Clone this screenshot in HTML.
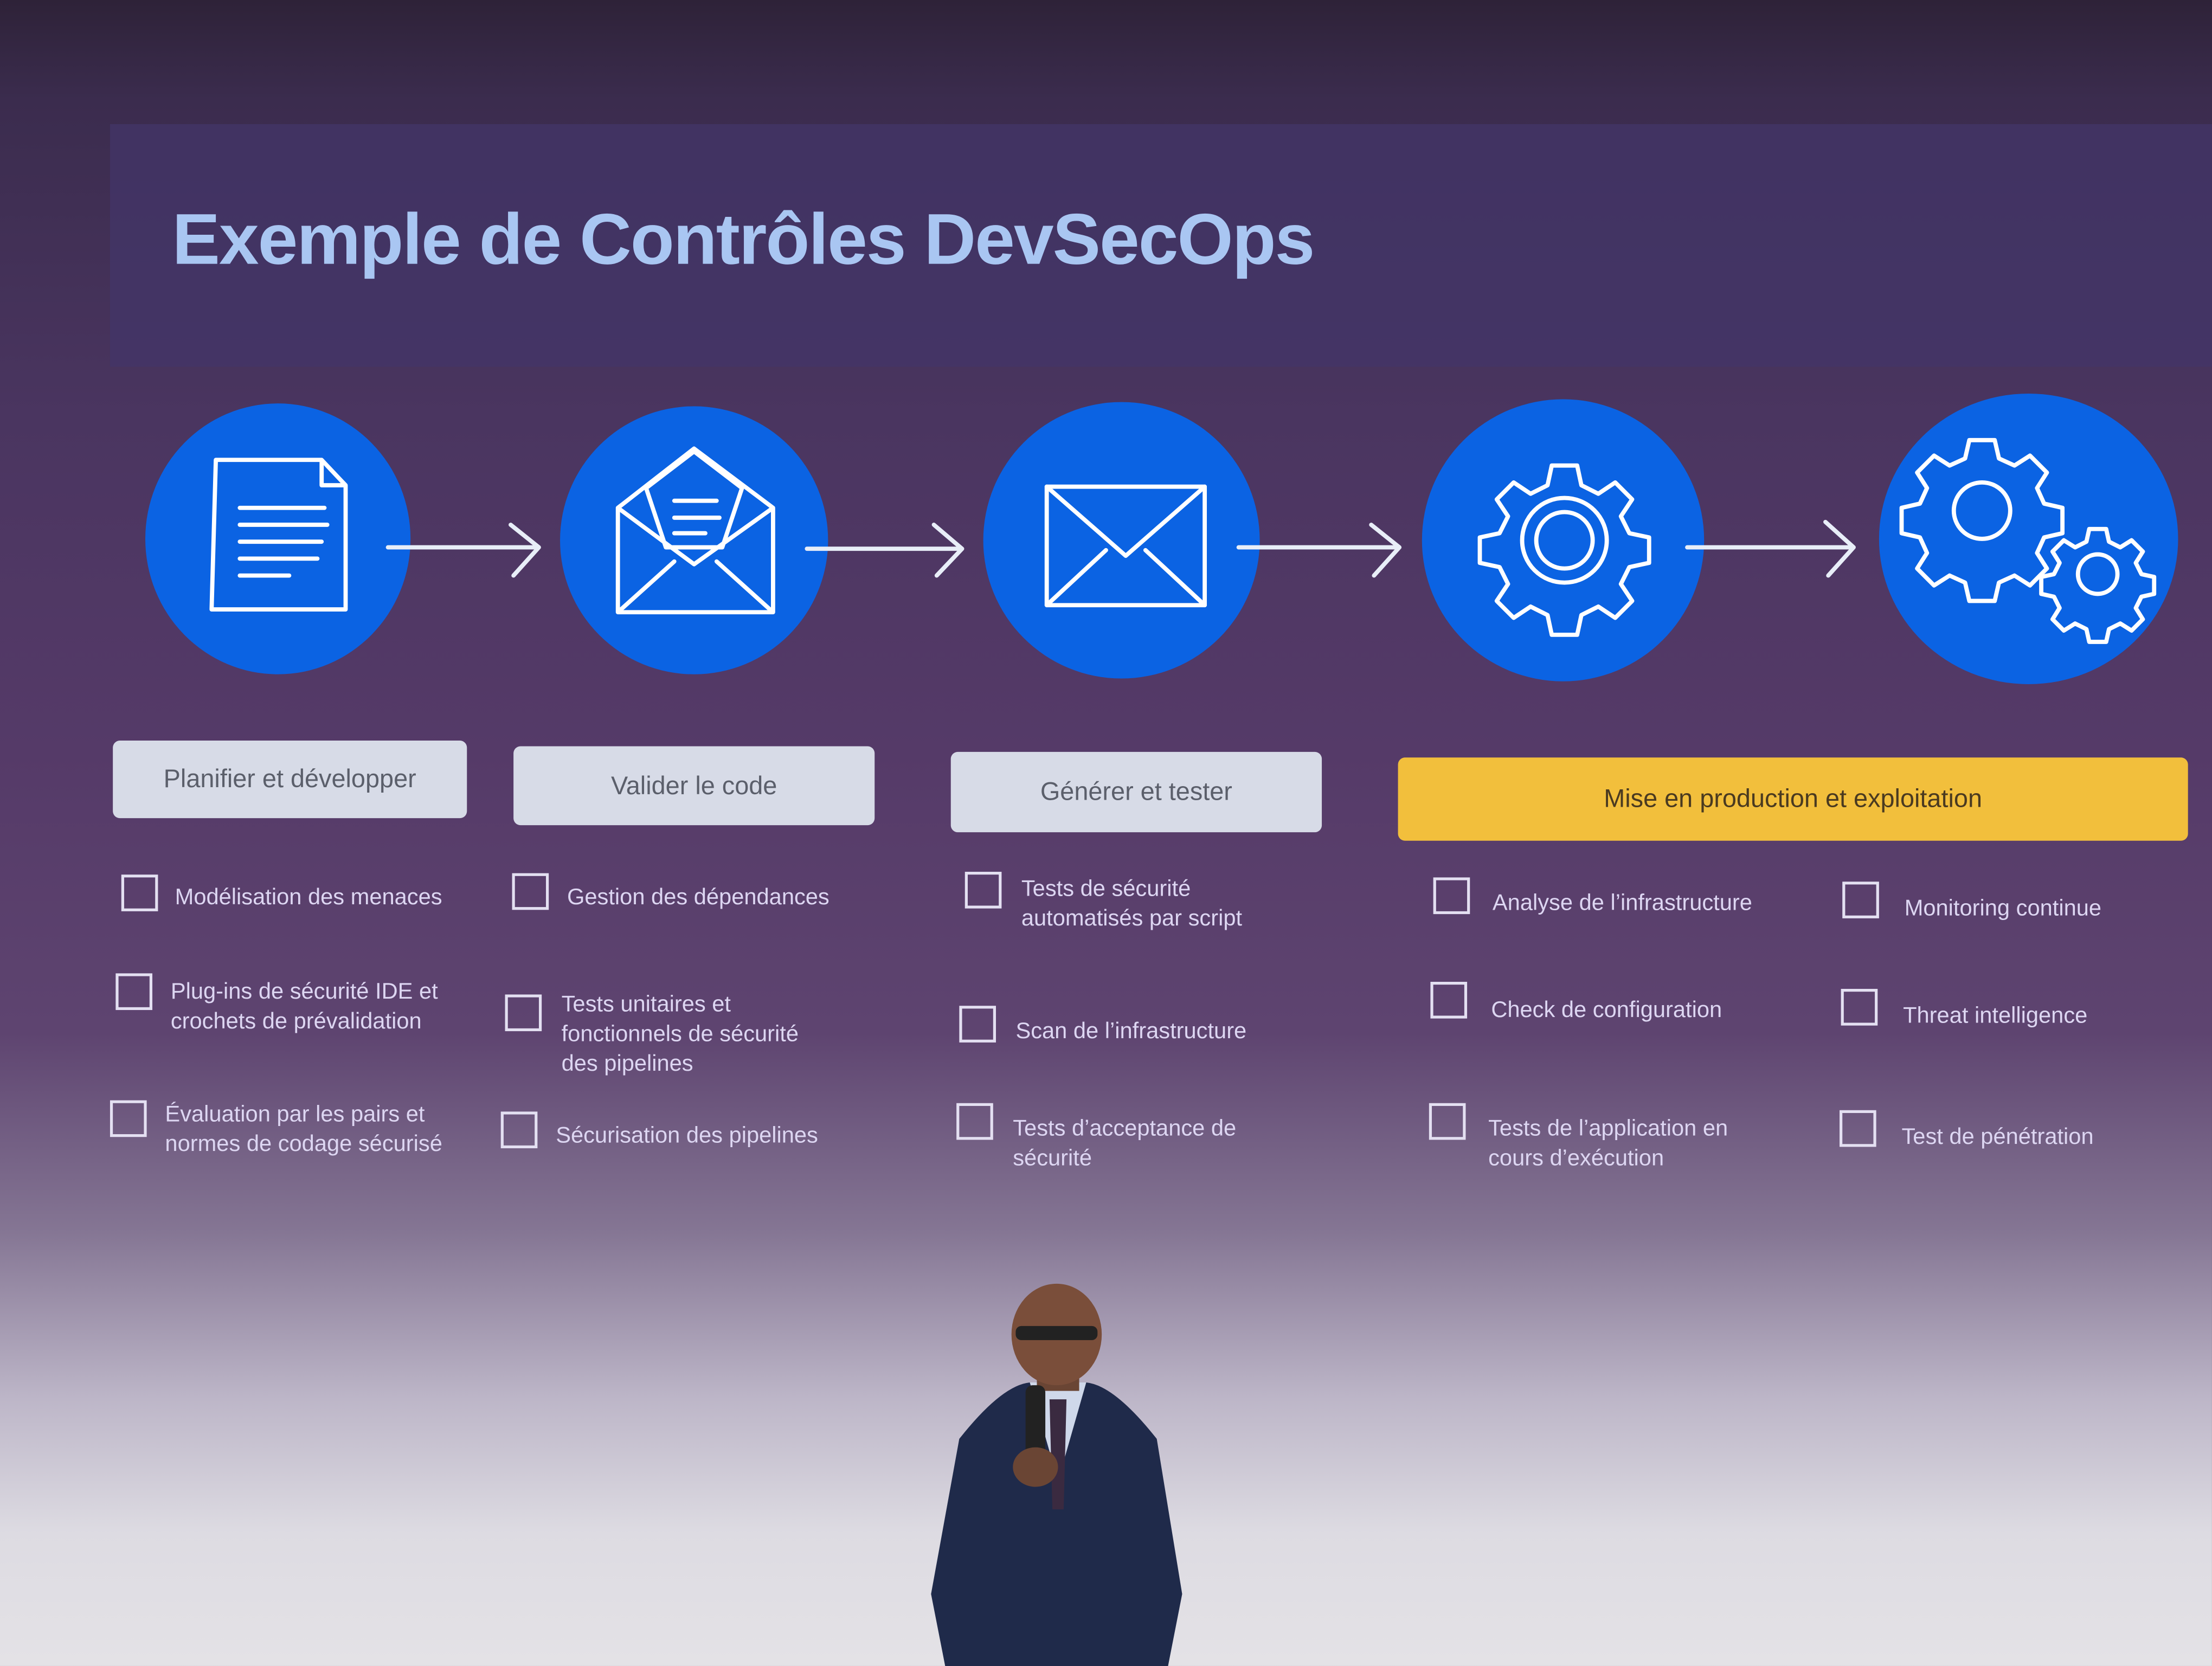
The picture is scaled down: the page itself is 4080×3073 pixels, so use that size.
<!DOCTYPE html>
<html><head><meta charset="utf-8">
<style>
html,body{margin:0;padding:0;width:4080px;height:3072px;overflow:hidden;background:#2a2035;}
#s{position:absolute;left:0;top:0;width:1568px;height:1181px;transform:scale(2.602);transform-origin:0 0;
background:linear-gradient(180deg,#2e2238 0%,#3b2c4e 6%,#4a3560 25%,#553a68 45%,#5e4470 62%,#857694 74%,#bdb6c8 84%,#dddbe2 92%,#e4e2e6 100%);
font-family:"Liberation Sans",sans-serif;overflow:hidden}
.a{position:absolute}
.band{left:78px;top:88px;width:1490px;height:172px;background:#433668;opacity:.75}
h1{position:absolute;left:122px;top:140px;margin:0;font-size:51px;font-weight:bold;color:#a9c6f2;letter-spacing:-0.8px}
.c{position:absolute;border-radius:50%;background:#0b63e3}
.btn{position:absolute;background:#d7dbe7;border-radius:5px;color:#5b5f6b;font-size:18px;display:flex;align-items:center;justify-content:center}
.cb{position:absolute;width:26px;height:26px;border:2px solid #e4e0f2;box-sizing:border-box}
.t{position:absolute;color:#ddd6f2;font-size:16px;line-height:21px}
</style></head><body><div id="s">
<div class="a band"></div>
<h1>Exemple de Contrôles DevSecOps</h1>
<div class="c" style="left:103px;top:286px;width:188px;height:192px"></div>
<div class="c" style="left:397px;top:288px;width:190px;height:190px"></div>
<div class="c" style="left:697px;top:285px;width:196px;height:196px"></div>
<div class="c" style="left:1008px;top:283px;width:200px;height:200px"></div>
<div class="c" style="left:1332px;top:279px;width:212px;height:206px"></div>
<svg class="a" style="left:0;top:0" width="1568" height="600" fill="none" stroke="#fff" stroke-width="3" stroke-linecap="round" stroke-linejoin="round">
<g stroke="#e8eef8"><path d="M275 388H380M362 372L382 388 364 408"/><path d="M572 389H680M662 372L682 389 664 408"/><path d="M878 388H990M972 372L992 388 974 408"/><path d="M1196 388H1312M1294 370L1314 388 1296 408"/></g>
<path d="M153 326H228L245 344V432H150Z M228 326V344H245"/><path d="M170 360H230M170 372H232M170 384H228M170 396H225M170 408H205"/>
<path d="M438 360L492 318 548 360V434H438Z M438 360L492 400 548 360 M438 434L478 398 M548 434L508 398"/><path d="M458 346L492 320 526 346 512 388H472Z"/><path d="M478 355H508M478 367H510M478 378H500"/>
<rect x="742" y="345" width="112" height="84"/><path d="M742 345L798 394 854 345 M742 429L784 390 M854 429L812 390"/>
<circle cx="1109" cy="383" r="20"/><circle cx="1109" cy="383" r="30"/><path d="M1100 330h18l3 14 12 6 12-8 12 12-8 12 6 12 14 3v18l-14 3-6 12 8 12-12 12-12-8-12 6-3 14h-18l-3-14-12-6-12 8-12-12 8-12-6-12-14-3v-18l14-3 6-12-8-12 12-12 12 8 12-6z"/>
<circle cx="1405" cy="362" r="20"/><path d="M1396 312h18l3 13 11 5 11-7 12 12-7 11 5 11 13 3v18l-13 3-5 11 7 11-12 12-11-7-11 5-3 13h-18l-3-13-11-5-11 7-12-12 7-11-5-11-13-3v-18l13-3 5-11-7-11 12-12 11 7 11-5z"/>
<circle cx="1487" cy="407" r="14"/><path d="M1481 375h12l2 9 8 4 8-5 8 8-5 8 4 8 9 2v12l-9 2-4 8 5 8-8 8-8-5-8 4-2 9h-12l-2-9-8-4-8 5-8-8 5-8-4-8-9-2v-12l9-2 4-8-5-8 8-8 8 5 8-4z"/>
</svg>
<div class="btn" style="left:80px;top:525px;width:251px;height:55px">Planifier et développer</div>
<div class="btn" style="left:364px;top:529px;width:256px;height:56px">Valider le code</div>
<div class="btn" style="left:674px;top:533px;width:263px;height:57px">Générer et tester</div>
<div class="btn" style="left:991px;top:537px;width:560px;height:59px;background:#f2bf3c;color:#4a3a20">Mise en production et exploitation</div>

<div class="cb" style="left:86px;top:620px"></div><div class="t" style="left:124px;top:626px">Modélisation des menaces</div>
<div class="cb" style="left:82px;top:690px"></div><div class="t" style="left:121px;top:693px">Plug-ins de sécurité IDE et<br>crochets de prévalidation</div>
<div class="cb" style="left:78px;top:780px"></div><div class="t" style="left:117px;top:780px">Évaluation par les pairs et<br>normes de codage sécurisé</div>

<div class="cb" style="left:363px;top:619px"></div><div class="t" style="left:402px;top:626px">Gestion des dépendances</div>
<div class="cb" style="left:358px;top:705px"></div><div class="t" style="left:398px;top:702px">Tests unitaires et<br>fonctionnels de sécurité<br>des pipelines</div>
<div class="cb" style="left:355px;top:788px"></div><div class="t" style="left:394px;top:795px">Sécurisation des pipelines</div>

<div class="cb" style="left:684px;top:618px"></div><div class="t" style="left:724px;top:620px">Tests de sécurité<br>automatisés par script</div>
<div class="cb" style="left:680px;top:713px"></div><div class="t" style="left:720px;top:721px">Scan de l’infrastructure</div>
<div class="cb" style="left:678px;top:782px"></div><div class="t" style="left:718px;top:790px">Tests d’acceptance de<br>sécurité</div>

<div class="cb" style="left:1016px;top:622px"></div><div class="t" style="left:1058px;top:630px">Analyse de l’infrastructure</div>
<div class="cb" style="left:1014px;top:696px"></div><div class="t" style="left:1057px;top:706px">Check de configuration</div>
<div class="cb" style="left:1013px;top:782px"></div><div class="t" style="left:1055px;top:790px">Tests de l’application en<br>cours d’exécution</div>

<div class="cb" style="left:1306px;top:625px"></div><div class="t" style="left:1350px;top:634px">Monitoring continue</div>
<div class="cb" style="left:1305px;top:701px"></div><div class="t" style="left:1349px;top:710px">Threat intelligence</div>
<div class="cb" style="left:1304px;top:787px"></div><div class="t" style="left:1348px;top:796px">Test de pénétration</div>

<svg class="a" style="left:640px;top:900px" width="220" height="281">
<path d="M40 120 Q70 82 90 80 L130 80 Q150 82 180 120 L198 230 L188 281 H30 L20 230 Z" fill="#1f2a4a"/>
<path d="M90 80 L110 150 L130 80 Z" fill="#cfd8ea"/>
<path d="M104 92 L116 92 L114 170 L106 170 Z" fill="#3a2a40"/>
<rect x="95" y="60" width="30" height="26" fill="#6a4534"/>
<ellipse cx="109" cy="46" rx="32" ry="36" fill="#7a4e3a"/>
<rect x="80" y="40" width="58" height="10" rx="4" fill="#222"/>
<rect x="87" y="82" width="14" height="60" rx="5" fill="#222"/>
<ellipse cx="94" cy="140" rx="16" ry="14" fill="#6a4534"/>
</svg>
</div></body></html>
